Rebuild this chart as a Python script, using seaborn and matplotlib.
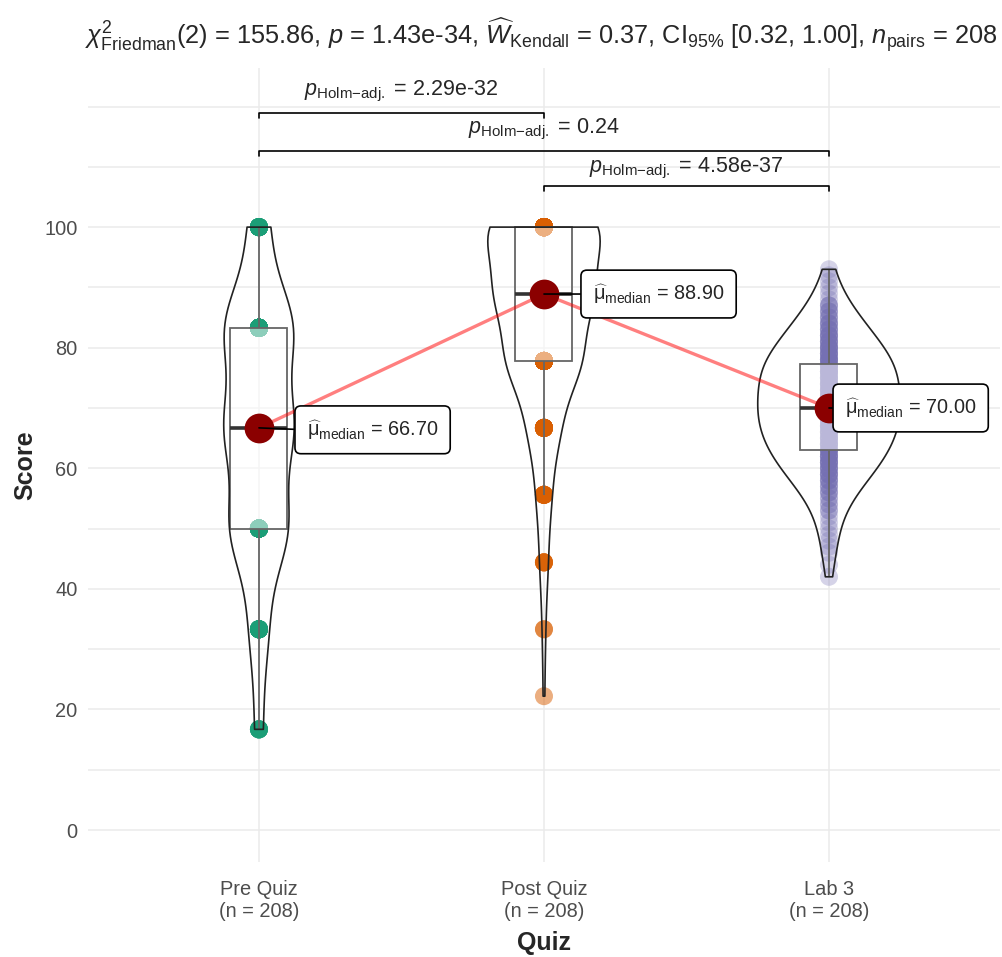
import numpy as np
import pandas as pd
import matplotlib
matplotlib.use("Agg")
import matplotlib.pyplot as plt
from matplotlib.ticker import FixedLocator, MultipleLocator
import seaborn as sns

sns.set_style("white")
plt.rcParams["font.family"] = ["Liberation Sans", "DejaVu Sans"]
plt.rcParams["mathtext.fontset"] = "custom"
plt.rcParams["mathtext.rm"] = "Liberation Sans"
plt.rcParams["mathtext.it"] = "Liberation Sans:italic"
plt.rcParams["mathtext.bf"] = "Liberation Sans:bold"

quiz_order = ["Pre Quiz", "Post Quiz", "Lab 3"]
tick_labels = ["Pre Quiz\n(n = 208)", "Post Quiz\n(n = 208)", "Lab 3\n(n = 208)"]
point_colors = ["#1B9E77", "#D95F02", "#7570B3"]

# scores and how many students got each
pre_scores = [16.7, 33.3, 50.0, 66.7, 83.3, 100.0]
pre_counts = [7, 16, 50, 58, 59, 18]

post_scores = [22.2, 33.3, 44.4, 55.6, 66.7, 77.8, 88.9, 100.0]
post_counts = [1, 2, 5, 9, 19, 45, 57, 70]

lab3_scores = [42, 44, 46, 47, 48, 49, 50, 51, 52, 53, 54, 55, 56, 57, 58, 59,
               60, 61, 62, 63, 64, 65, 66, 67, 68, 69, 70, 71, 72, 73, 74, 75,
               76, 77, 78, 79, 80, 81, 82, 83, 84, 85, 86, 87, 88, 89, 90, 91,
               92, 93]
lab3_counts = [1, 1, 1, 1, 1, 1, 1, 1, 1, 2, 2, 2, 3, 3, 4, 5,
               5, 6, 6, 6, 7, 7, 7, 8, 7, 7, 9, 7, 7, 7, 7, 7,
               8, 8, 7, 6, 6, 5, 5, 4, 4, 3, 3, 3, 1, 1, 1, 1,
               1, 1]

pair_idx = [(0, 1), (0, 2), (1, 2)]
pair_p = ["2.29e-32", "0.24", "4.58e-37"]
pair_y = [118.9, 112.6, 106.8]
pair_text_y = [121.9, 115.6, 109.1]

subtitle = (r"$\chi^{2}_{\mathrm{Friedman}}$(2) = 155.86, $\it{p}$ = 1.43e-34, "
            r"$\widehat{\it{W}}_{\mathrm{Kendall}}$ = 0.37, CI$_{95\%}$ [0.32, 1.00], "
            r"$\it{n}_{\mathrm{pairs}}$ = 208")

label_dx = [34.5, 35.2, 11.5]   # points, label offset right of the median dot
label_dy = [-1.4, 0, 0]

df = pd.DataFrame({
    "Quiz": (["Pre Quiz"] * sum(pre_counts) + ["Post Quiz"] * sum(post_counts)
             + ["Lab 3"] * sum(lab3_counts)),
    "Score": np.concatenate([np.repeat(pre_scores, pre_counts),
                             np.repeat(post_scores, post_counts),
                             np.repeat(lab3_scores, lab3_counts)]),
})

fig = plt.figure(figsize=(10.03, 9.57), dpi=100)
ax = fig.add_axes([0.0877, 0.0993, 0.9093, 0.8297])

sns.stripplot(data=df, x="Quiz", y="Score", order=quiz_order, hue="Quiz",
              hue_order=quiz_order, palette=point_colors, jitter=False,
              size=13, alpha=0.5, linewidth=0, legend=False, ax=ax)
for c in ax.collections:
    c.set_zorder(1)
    offs = c.get_offsets()
    # Lab 3 scores are spread out, so its dots pile up far less in the original
    if len(offs) and np.allclose(offs[:, 0], 2):
        c.set_alpha(0.3)

n_patch, n_line = len(ax.patches), len(ax.lines)
sns.boxplot(data=df, x="Quiz", y="Score", order=quiz_order, width=0.2,
            showfliers=False, showcaps=False, whis=1.5,
            boxprops=dict(edgecolor="#666666", linewidth=1.3),
            whiskerprops=dict(color="#666666", linewidth=1.3),
            medianprops=dict(color="#333333", linewidth=2.6), ax=ax)
for p in ax.patches[n_patch:]:
    p.set_facecolor((1, 1, 1, 0.5))
    p.set_zorder(2)
for ln in ax.lines[n_line:]:
    ln.set_zorder(2.2)

n_coll = len(ax.collections)
sns.violinplot(data=df, x="Quiz", y="Score", order=quiz_order, fill=False,
               inner=None, cut=0, density_norm="area", width=0.5,
               bw_adjust=1.05, color="#222222", linewidth=1.2, ax=ax)
for c in ax.collections[n_coll:]:
    c.set_zorder(3)

medians = df.groupby("Quiz", sort=False)["Score"].median().reindex(quiz_order)
xpos = np.arange(len(quiz_order))
ax.plot(xpos, medians.values, color="red", alpha=0.5, lw=2.4, zorder=5)
ax.scatter(xpos, medians.values, s=460, color="darkred", zorder=6, linewidths=0)

for i, med in enumerate(medians.values):
    ax.annotate(r"$\widehat{\mathrm{\mu}}_{\mathrm{median}}$ = " + f"{med:.2f}",
                xy=(xpos[i], med), xytext=(label_dx[i], label_dy[i]),
                textcoords="offset points", ha="left", va="center",
                fontsize=14.3, zorder=7,
                bbox=dict(boxstyle="round,pad=0.6,rounding_size=0.3",
                          fc="white", ec="black", lw=1.2),
                arrowprops=dict(arrowstyle="-", color="black", lw=1.2,
                                shrinkA=0, shrinkB=0, relpos=(0, 0.5)))

tip = 0.8
for (a, b), p, y, ty in zip(pair_idx, pair_p, pair_y, pair_text_y):
    ax.plot([a, a, b, b], [y - tip, y, y, y - tip], color="black", lw=1.2, zorder=4)
    ax.text((a + b) / 2, ty, r"$\it{p}_{\mathrm{Holm{-}adj.}}$ = " + p,
            ha="center", va="baseline", fontsize=15.5)

ax.set_xlim(-0.6, 2.6)
ax.set_ylim(-5.3, 126.4)
ax.set_xticks(xpos)
ax.set_xticklabels(tick_labels)
ax.yaxis.set_major_locator(FixedLocator([0, 20, 40, 60, 80, 100]))
ax.yaxis.set_minor_locator(MultipleLocator(10))
ax.grid(which="both", color="#EBEBEB", lw=1.1)
ax.set_axisbelow(True)
for s in ax.spines.values():
    s.set_visible(False)
ax.tick_params(axis="both", which="major", length=4.5, width=1.1, color="#333333",
               labelsize=14.4, labelcolor="#4D4D4D")
ax.tick_params(axis="x", pad=8.5)
ax.tick_params(axis="y", pad=3)
ax.tick_params(axis="y", which="minor", length=0)

ax.set_xlabel("Quiz", fontsize=18, fontweight="bold", labelpad=7)
ax.set_ylabel("Score", fontsize=18, fontweight="bold", labelpad=5)

fig.text(0.085, 0.954, subtitle, ha="left", va="baseline", fontsize=18.3)

fig.savefig("out.png", dpi=100, facecolor="white")
